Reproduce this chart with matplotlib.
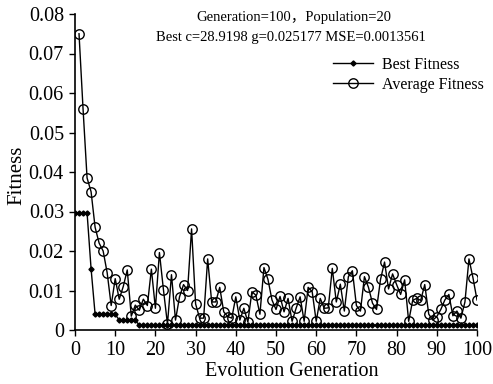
import matplotlib
matplotlib.use("Agg")
import matplotlib.pyplot as plt

plt.rcParams['font.family'] = ['Liberation Serif', 'Noto Sans CJK SC', 'DejaVu Sans']

# Average fitness, generations 1..100
avg_gen = list(range(1, 101))
avg_fit = [
    0.0750, 0.0560, 0.0385, 0.0350, 0.0260, 0.0220, 0.0200, 0.0145, 0.0062, 0.0130,
    0.0078, 0.0110, 0.0152, 0.0035, 0.0063, 0.0050, 0.0078, 0.0062, 0.0154, 0.0055,
    0.0196, 0.0102, 0.0015, 0.0140, 0.0025, 0.0084, 0.0115, 0.0100, 0.0256, 0.0066,
    0.0030, 0.0030, 0.0180, 0.0071, 0.0071, 0.0108, 0.0046, 0.0034, 0.0030, 0.0084,
    0.0025, 0.0055, 0.0020, 0.0097, 0.0088, 0.0040, 0.0158, 0.0128, 0.0076, 0.0052,
    0.0085, 0.0046, 0.0080, 0.0022, 0.0055, 0.0084, 0.0022, 0.0108, 0.0097, 0.0022,
    0.0080, 0.0055, 0.0056, 0.0156, 0.0071, 0.0116, 0.0048, 0.0135, 0.0150, 0.0062,
    0.0048, 0.0135, 0.0108, 0.0068, 0.0052, 0.0128, 0.0172, 0.0104, 0.0142, 0.0115,
    0.0090, 0.0127, 0.0022, 0.0075, 0.0080, 0.0075, 0.0115, 0.0040, 0.0025, 0.0034,
    0.0052, 0.0076, 0.0090, 0.0036, 0.0048, 0.0030, 0.0071, 0.0180, 0.0132, 0.0076,
]

# Best fitness, generations 0..100
best_gen = list(range(0, 101))
best_fit = [
    0.0297, 0.0297, 0.0297, 0.0297, 0.0155, 0.0040, 0.0040, 0.0040, 0.0040, 0.0040,
    0.0040, 0.0025, 0.0025, 0.0025, 0.0025, 0.0025, 0.0012, 0.0012, 0.0012, 0.0012,
    0.0012, 0.0012, 0.0012, 0.0012, 0.0012, 0.0012, 0.0012, 0.0012, 0.0012, 0.0012,
    0.0012, 0.0012, 0.0012, 0.0012, 0.0012, 0.0012, 0.0012, 0.0012, 0.0012, 0.0012,
    0.0012, 0.0012, 0.0012, 0.0012, 0.0012, 0.0012, 0.0012, 0.0012, 0.0012, 0.0012,
    0.0012, 0.0012, 0.0012, 0.0012, 0.0012, 0.0012, 0.0012, 0.0012, 0.0012, 0.0012,
    0.0012, 0.0012, 0.0012, 0.0012, 0.0012, 0.0012, 0.0012, 0.0012, 0.0012, 0.0012,
    0.0012, 0.0012, 0.0012, 0.0012, 0.0012, 0.0012, 0.0012, 0.0012, 0.0012, 0.0012,
    0.0012, 0.0012, 0.0012, 0.0012, 0.0012, 0.0012, 0.0012, 0.0012, 0.0012, 0.0012,
    0.0012, 0.0012, 0.0012, 0.0012, 0.0012, 0.0012, 0.0012, 0.0012, 0.0012, 0.0012,
    0.0012,
]

x_ticks = [0, 10, 20, 30, 40, 50, 60, 70, 80, 90, 100]
y_ticks = [0, 0.01, 0.02, 0.03, 0.04, 0.05, 0.06, 0.07, 0.08]
y_tick_labels = ["0", "0.01", "0.02", "0.03", "0.04", "0.05", "0.06", "0.07", "0.08"]

title1 = "Generation=100，Population=20"
title2 = "Best c=28.9198 g=0.025177 MSE=0.0013561"

W, H = 493, 384
fig = plt.figure(figsize=(W/100, H/100), dpi=100)
ax = fig.add_axes([75/W, 1-330/H, (477-75)/W, (330-14)/H])

ax.plot(best_gen, best_fit, color='black', lw=1.0, marker='D', ms=2.6,
        mfc='black', mec='black', label='Best Fitness')
ax.plot(avg_gen, avg_fit, color='black', lw=1.0, marker='o', ms=6.8,
        mfc='none', mec='black', mew=1.0, label='Average Fitness')

ax.set_xlim(0, 100)
ax.set_ylim(0, 0.08)
ax.set_xticks(x_ticks)
ax.set_yticks(y_ticks)
ax.set_yticklabels(y_tick_labels)
ax.tick_params(direction='out', length=4, width=1, labelsize=14.5, colors='black')
ax.tick_params(axis='x', pad=4)
ax.tick_params(axis='y', pad=4)
for s in ['top', 'right']:
    ax.spines[s].set_visible(False)
for s in ['left', 'bottom']:
    ax.spines[s].set_linewidth(1.2)

fig.text(292/W, 1-371/H, "Evolution Generation", ha='center', va='center', fontsize=14.5)
fig.text(17/W, 1-175/H, "Fitness", ha='center', va='center', fontsize=15, rotation=90)

fig.text(294/W, 1-17/H, title1, ha='center', va='center', fontsize=10.5)
fig.text(291/W, 1-37/H, title2, ha='center', va='center', fontsize=10.5)

leg = ax.legend(loc='upper left', bbox_to_anchor=((333-75)/(477-75), 1-(57-14)/(330-14)),
                frameon=False, fontsize=11.5, handlelength=2.5, handletextpad=0.55,
                labelspacing=0.25, borderpad=0.0, borderaxespad=0.0)

fig.savefig("out.png", dpi=100)
